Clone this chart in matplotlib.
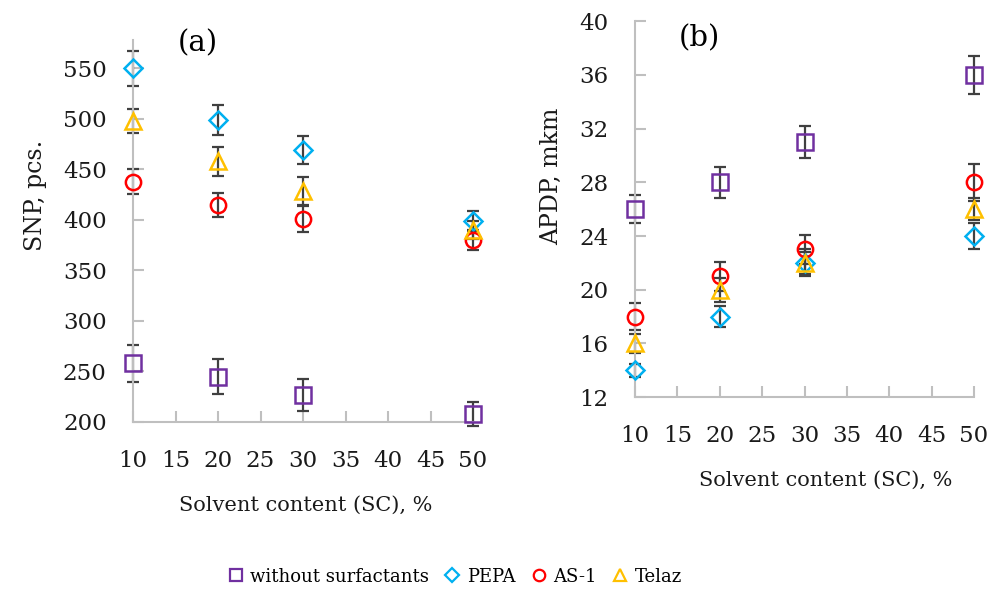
import matplotlib
matplotlib.use('Agg')
import matplotlib.pyplot as plt

plt.rcParams['font.family'] = ['DejaVu Serif']

# solvent content, %
sc = [10, 20, 30, 50]
series = ['without surfactants', 'PEPA', 'AS-1', 'Telaz']

# SNP, pcs. and error bars
snp_none = [258, 245, 227, 208]
snp_none_err = [18, 17, 16, 12]
snp_pepa = [550, 499, 469, 399]
snp_pepa_err = [17, 15, 14, 10]
snp_as1 = [438, 415, 401, 380]
snp_as1_err = [12, 12, 13, 10]
snp_telaz = [498, 458, 429, 390]
snp_telaz_err = [12, 14, 14, 9]

# APDP, mkm and error bars
apdp_none = [26, 28, 31, 36]
apdp_none_err = [1.05, 1.15, 1.2, 1.45]
apdp_pepa = [14, 18, 22, 24]
apdp_pepa_err = [0.5, 0.77, 1.0, 1.0]
apdp_as1 = [18, 21, 23, 28]
apdp_as1_err = [1.0, 1.1, 1.1, 1.4]
apdp_telaz = [16, 20, 22, 26]
apdp_telaz_err = [0.7, 0.9, 0.8, 0.8]

markers = ['s', 'D', 'o', '^']
colors = ['#7030a0', '#00b0f0', '#ff0000', '#ffc000']
msizes = [11, 9, 11, 11]

fig = plt.figure(figsize=(10, 5.91), dpi=100)
ax_a = fig.add_axes([0.133, 0.286, 0.340, 0.646])
ax_b = fig.add_axes([0.635, 0.328, 0.339, 0.636])


def draw(ax, vals, errs):
    handles = []
    for v, e, m, c, ms in zip(vals, errs, markers, colors, msizes):
        ax.errorbar(sc, v, yerr=e, fmt='none', ecolor='#404040', elinewidth=1.6,
                    capsize=4.5, capthick=1.6, clip_on=False, zorder=2)
        h, = ax.plot(sc, v, linestyle='none', marker=m, markersize=ms,
                     markerfacecolor='none', markeredgecolor=c, markeredgewidth=1.8,
                     clip_on=False, zorder=3)
        handles.append(h)
    ax.set_xlim(10, 50)
    ax.set_xticks(range(10, 51, 5))
    for s in ['top', 'right']:
        ax.spines[s].set_visible(False)
    for s in ['left', 'bottom']:
        ax.spines[s].set_color('#bfbfbf')
        ax.spines[s].set_linewidth(1.5)
    ax.tick_params(direction='in', length=8, width=1.5, color='#bfbfbf',
                   labelsize=16.5, labelcolor='#1a1a1a')
    ax.tick_params(axis='x', pad=20)
    ax.tick_params(axis='y', pad=19)
    return handles


handles = draw(ax_a, [snp_none, snp_pepa, snp_as1, snp_telaz],
               [snp_none_err, snp_pepa_err, snp_as1_err, snp_telaz_err])
ax_a.set_ylim(200, 578)
ax_a.set_yticks(range(200, 551, 50))
ax_a.set_ylabel('SNP, pcs.', fontsize=17, color='#1a1a1a')
ax_a.yaxis.set_label_coords(-0.253, 0.594)
ax_a.set_xlabel('Solvent content (SC), %', fontsize=15, color='#1a1a1a')
ax_a.xaxis.set_label_coords(0.509, -0.193)
ax_a.text(0.19, 0.992, '(a)', transform=ax_a.transAxes, fontsize=21, ha='center', va='center')

draw(ax_b, [apdp_none, apdp_pepa, apdp_as1, apdp_telaz],
     [apdp_none_err, apdp_pepa_err, apdp_as1_err, apdp_telaz_err])
ax_b.set_ylim(12, 40)
ax_b.set_yticks(range(12, 41, 4))
ax_b.set_ylabel('APDP, mkm', fontsize=17, color='#1a1a1a')
ax_b.yaxis.set_label_coords(-0.212, 0.588)
ax_b.set_xlabel('Solvent content (SC), %', fontsize=15, color='#1a1a1a')
ax_b.xaxis.set_label_coords(0.563, -0.195)
ax_b.text(0.19, 0.955, '(b)', transform=ax_b.transAxes, fontsize=21, ha='center', va='center')

leg_handles = [plt.Line2D([], [], linestyle='none', marker=m, markersize=ms * 0.75,
                          markerfacecolor='none', markeredgecolor=c, markeredgewidth=1.6)
               for m, c, ms in zip(markers, colors, msizes)]
fig.legend(leg_handles, series, loc='center', bbox_to_anchor=(0.456, 0.024), ncol=4,
           frameon=False, fontsize=13, handlelength=0.6, handletextpad=0.5,
           columnspacing=1.0)

fig.savefig('out.png', dpi=100)
